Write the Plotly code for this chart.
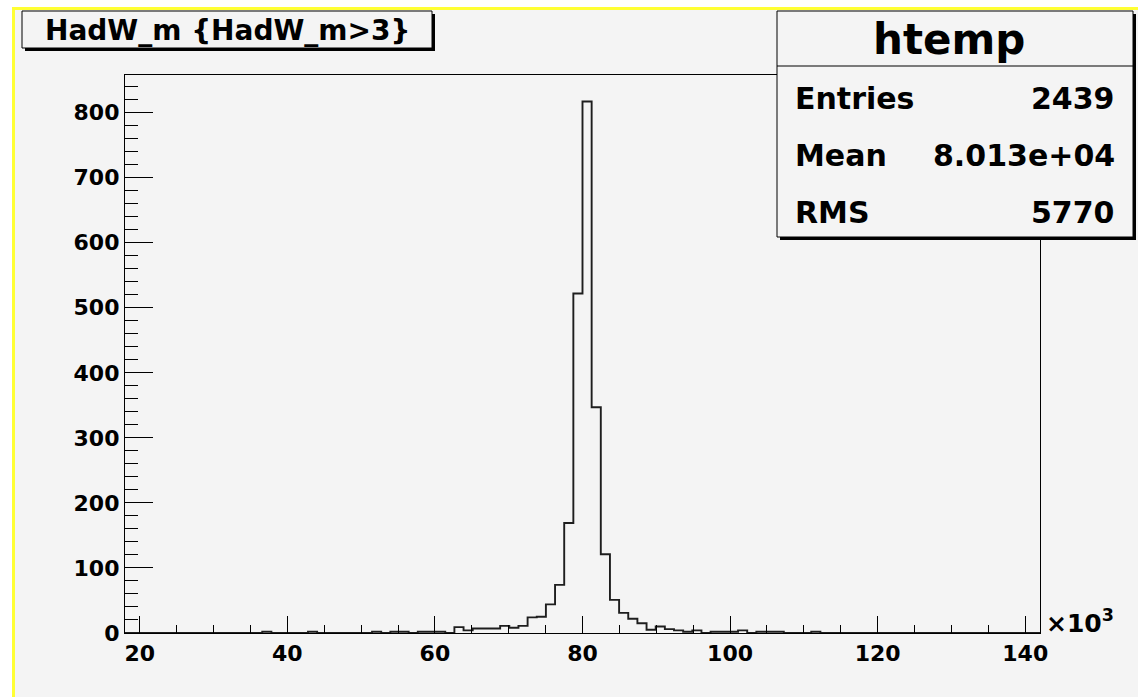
import plotly.graph_objects as go

# ---- data (x in units of 10^3) ----
x_min = 18.0
bin_width = 1.24
counts = [
    0, 0, 0, 0, 0, 0, 0, 0, 0, 0,
    0, 0, 0, 0, 0, 2, 0, 0, 0, 0,
    2, 0, 0, 0, 0, 0, 0, 2, 0, 2,
    2, 0, 2, 2, 2, 0, 9, 4, 7, 7,
    7, 11, 8, 11, 24, 25, 44, 74, 169, 522,
    817, 347, 121, 51, 31, 22, 15, 5, 10, 6,
    4, 2, 4, 0, 2, 2, 2, 4, 0, 2,
    2, 2, 0, 0, 0, 2, 0, 0, 0, 0,
    0, 0, 0, 0, 0, 0, 0, 0, 0, 0,
    0, 0, 0, 0, 0, 0, 0, 0, 0, 0,
]
x_ticks = [20, 40, 60, 80, 100, 120, 140]
y_ticks = [0, 100, 200, 300, 400, 500, 600, 700, 800]
title_text = "HadW_m {HadW_m>3}"
hist_name = "htemp"
stat_labels = ["Entries", "Mean", "RMS"]
stat_values = ["2439", "8.013e+04", "5770"]

# ---- layout geometry ----
W, H = 1138, 697
L, R, T, B = 125, 1040, 75, 633
BG = "#f4f4f4"
FONT = "DejaVu Sans"


def px(x):
    return (x - L) / (R - L)


def py(y):
    return (B - y) / (B - T)


edges = [x_min + i * bin_width for i in range(len(counts) + 1)]
x_max = edges[-1]
y_max = 1.05 * max(counts)

fig = go.Figure()
fig.add_trace(go.Scatter(
    x=edges, y=counts + [counts[-1]], mode="lines", line_shape="hv",
    line=dict(color="#1e1e1e", width=1.9), hoverinfo="skip", showlegend=False,
))

shapes = []
# white margin + yellow canvas highlight
shapes.append(dict(type="rect", xref="paper", yref="paper", x0=px(0), x1=px(12), y0=py(0), y1=py(H),
                   fillcolor="white", line=dict(width=0), layer="below"))
shapes.append(dict(type="rect", xref="paper", yref="paper", x0=px(0), x1=px(W), y0=py(0), y1=py(7),
                   fillcolor="white", line=dict(width=0), layer="below"))
shapes.append(dict(type="rect", xref="paper", yref="paper", x0=px(12), x1=px(15), y0=py(7), y1=py(H),
                   fillcolor="#ffff33", line=dict(width=0), layer="below"))
shapes.append(dict(type="rect", xref="paper", yref="paper", x0=px(12), x1=px(W), y0=py(7), y1=py(10),
                   fillcolor="#ffff33", line=dict(width=0), layer="below"))


def boxed(x0, y0, x1, y1):
    shapes.append(dict(type="rect", xref="paper", yref="paper", x0=px(x0 + 3), x1=px(x1 + 3),
                       y0=py(y0 + 3), y1=py(y1 + 3), fillcolor="black", line=dict(width=0)))
    shapes.append(dict(type="rect", xref="paper", yref="paper", x0=px(x0), x1=px(x1),
                       y0=py(y0), y1=py(y1), fillcolor=BG, line=dict(color="black", width=1)))


boxed(22, 11, 432, 48)
boxed(777, 11, 1133, 237)
shapes.append(dict(type="line", xref="paper", yref="paper", x0=px(777), x1=px(1133), y0=py(66), y1=py(66),
                   line=dict(color="black", width=1)))

ann = []
ann.append(dict(text=title_text, x=px(227), y=py(30), xref="paper", yref="paper", showarrow=False,
                xanchor="center", yanchor="middle", font=dict(family=FONT, size=28, color="black", weight="bold")))
ann.append(dict(text=hist_name, x=px(949), y=py(39), xref="paper", yref="paper", showarrow=False,
                xanchor="center", yanchor="middle", font=dict(family=FONT, size=42, color="black", weight="bold")))
row_y = [98, 155, 212]
for lab, val, yy in zip(stat_labels, stat_values, row_y):
    ann.append(dict(text=lab, x=px(793), y=py(yy), xref="paper", yref="paper", showarrow=False,
                    xanchor="left", yanchor="middle", font=dict(family=FONT, size=30, color="black", weight="bold")))
    ann.append(dict(text=val, x=px(1117), y=py(yy), xref="paper", yref="paper", showarrow=False,
                    xanchor="right", yanchor="middle", font=dict(family=FONT, size=30, color="black", weight="bold")))
ann.append(dict(text="×10<sup>3</sup>", x=px(1044), y=py(621), xref="paper", yref="paper", showarrow=False,
                xanchor="left", yanchor="middle", font=dict(family=FONT, size=25, color="black", weight="bold")))

fig.update_layout(
    width=W, height=H, autosize=False,
    margin=dict(l=L, r=W - R, t=T, b=H - B, pad=0),
    paper_bgcolor=BG, plot_bgcolor=BG,
    shapes=shapes, annotations=ann, showlegend=False,
    xaxis=dict(range=[x_min, x_max], tickvals=x_ticks, ticks="inside", ticklen=17, tickwidth=1.2,
               tickcolor="black", showline=True, linecolor="black", linewidth=1.2, mirror=True,
               showgrid=False, zeroline=False,
               minor=dict(dtick=5, tick0=0, ticks="inside", ticklen=8, tickwidth=1.2, tickcolor="black", showgrid=False),
               tickfont=dict(family=FONT, size=22, color="black", weight="bold")),
    yaxis=dict(range=[0, y_max], tickvals=y_ticks, ticks="inside", ticklen=28, tickwidth=1.2,
               tickcolor="black", showline=True, linecolor="black", linewidth=1.2, mirror=True,
               showgrid=False, zeroline=False,
               minor=dict(dtick=20, tick0=0, ticks="inside", ticklen=13, tickwidth=1.2, tickcolor="black", showgrid=False),
               tickfont=dict(family=FONT, size=22, color="black", weight="bold")),
)

fig.write_html("out.html", config={"displayModeBar": False},
               post_script="document.body.style.margin='0px';document.body.style.background='#f4f4f4';")
